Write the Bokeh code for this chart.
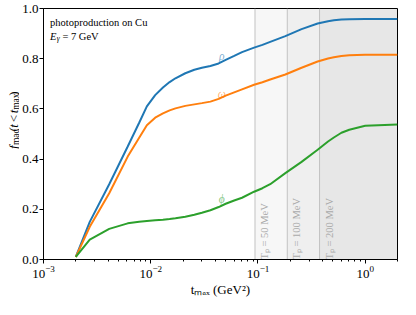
import math
from bokeh.plotting import figure
from bokeh.layouts import row
from bokeh.models import Range1d, Label, FixedTicker, PrintfTickFormatter, LogTicker, ColumnDataSource
from bokeh.embed import file_html
from bokeh.resources import INLINE
from bokeh.core.properties import value

# ---------------- data ----------------
t_max = [0.002, 0.0027, 0.0041, 0.0061, 0.0078, 0.0092, 0.011, 0.013, 0.015, 0.017,
         0.021, 0.0255, 0.03, 0.036, 0.043, 0.05, 0.06, 0.071, 0.092, 0.11,
         0.13, 0.18, 0.255, 0.36, 0.45, 0.51, 0.6, 0.71, 1.0, 2.0]
rho = [0.01, 0.150, 0.300, 0.450, 0.545, 0.610, 0.655, 0.685, 0.707, 0.722,
       0.742, 0.756, 0.764, 0.771, 0.781, 0.795, 0.811, 0.826, 0.844, 0.855,
       0.867, 0.890, 0.918, 0.940, 0.949, 0.953, 0.956, 0.957, 0.958, 0.958]
omega = [0.01, 0.130, 0.264, 0.410, 0.485, 0.535, 0.565, 0.582, 0.594, 0.602,
         0.612, 0.618, 0.623, 0.629, 0.640, 0.653, 0.666, 0.678, 0.696, 0.706,
         0.717, 0.737, 0.764, 0.789, 0.801, 0.806, 0.811, 0.814, 0.816, 0.816]
phi = [0.01, 0.079, 0.122, 0.144, 0.150, 0.153, 0.156, 0.158, 0.161, 0.164,
       0.170, 0.178, 0.186, 0.196, 0.209, 0.222, 0.235, 0.246, 0.270, 0.284,
       0.300, 0.344, 0.389, 0.437, 0.470, 0.486, 0.505, 0.517, 0.533, 0.538]

series_colors = ["#1f77b4", "#ff7f0e", "#2ca02c"]
curve_names = ["ρ", "ω", "ϕ"]
curve_label_t = [0.046, 0.046, 0.046]
curve_label_y = [0.812, 0.658, 0.242]

tp_t = [0.0938, 0.1876, 0.375]
tp_labels = ["Tₚ = 50 MeV", "Tₚ = 100 MeV", "Tₚ = 200 MeV"]

y_ticks = [0.0, 0.2, 0.4, 0.6, 0.8, 1.0]
x_lo, x_hi = 1e-3, 2.0
x_title = "tₘₐₓ (GeV²)"

SERIF = "Liberation Serif"
TICK_FS = 13
LAB_FS = 13
SUB_FS = 9.5

# ---------------- geometry ----------------
LYW = 19                       # width of the y-label strip
PW, PH = 380, 299              # main plot canvas
BL, BR, BT, BB = 22, 2, 8, 24
FW = PW - BL - BR
FH_EST = 251                   # expected frame height after the x axis is laid out

p = figure(width=PW, height=PH, x_axis_type="log", output_backend="svg",
           toolbar_location=None, x_range=Range1d(x_lo, x_hi), y_range=Range1d(0, 1),
           min_border_left=BL, min_border_right=BR, min_border_top=BT, min_border_bottom=BB)
p.grid.visible = False
p.outline_line_color = "black"
p.outline_line_width = 1
p.background_fill_color = "white"
p.border_fill_color = "white"

for ax in (p.xaxis[0], p.yaxis[0]):
    ax.axis_line_color = "black"
    ax.major_tick_line_color = "black"
    ax.minor_tick_line_color = "black"
    ax.major_tick_in = 0
    ax.major_tick_out = 4
    ax.minor_tick_in = 0
    ax.minor_tick_out = 2
    ax.major_label_text_font = SERIF
    ax.major_label_text_font_size = f"{TICK_FS}px"
    ax.major_label_text_color = "black"
    ax.major_label_standoff = 2
p.yaxis.major_label_standoff = 1

p.xaxis.ticker = LogTicker(num_minor_ticks=10)
p.yaxis.ticker = FixedTicker(ticks=y_ticks)
p.yaxis.formatter = PrintfTickFormatter(format="%.1f")
p.yaxis.minor_tick_line_color = None

p.xaxis.axis_label = x_title
p.xaxis.axis_label_text_font = SERIF
p.xaxis.axis_label_text_font_size = f"{LAB_FS}px"
p.xaxis.axis_label_text_font_style = "normal"
p.xaxis.axis_label_text_color = "black"
p.xaxis.axis_label_standoff = 1

# shaded regions, threshold lines and their labels
p.quad(left=tp_t, right=x_hi, bottom=0, top=1, fill_color="black", fill_alpha=0.03, line_color=None)
p.segment(x0=tp_t, x1=tp_t, y0=0, y1=1, line_color="#c2c2c2", line_width=1)
tp_src = ColumnDataSource(dict(x=tp_t, text=tp_labels))
p.text(x="x", y=0.0, text="text", source=tp_src, angle=math.pi / 2, x_offset=4,
       text_align="left", text_baseline="top", text_font=value(SERIF),
       text_font_size="10.5px", text_color="#aaaaaa")

# curves
for ys, c in zip([rho, omega, phi], series_colors):
    p.line(t_max, ys, line_color=c, line_width=2)

lab_src = ColumnDataSource(dict(x=curve_label_t, y=curve_label_y, text=curve_names, color=series_colors))
p.text(x="x", y="y", text="text", source=lab_src, text_color="color", text_alpha=0.6,
       text_font=value(SERIF), text_font_style="italic", text_font_size="11.5px",
       text_align="center", text_baseline="middle")

# ---------------- text helpers ----------------
LX = math.log10(x_hi / x_lo)
def xd(dx):
    return x_lo * 10 ** (dx / FW * LX)
def yd_top(d):
    return 1 - d / FH_EST

EM = {"m": .778, "a": .444, "c": .444, "x": .5, "(": .333, ")": .333, "<": .564,
      "G": .722, "e": .444, "V": .722, "2": .5, "=": .564, "7": .5, " ": .25,
      "f": .278, "t": .278, "E": .611, "γ": .44}
def width(s, size):
    return sum(EM.get(ch, .5) for ch in s) * size

def add_label(fig, text, x, y, size, style="normal"):
    fig.add_layout(Label(x=x, y=y, text=text, text_font=SERIF,
                         text_font_size=f"{size}px", text_font_style=style,
                         text_color="black", text_align="left", text_baseline="alphabetic"))

def strip(w, h):
    f = figure(width=w, height=h, x_range=Range1d(0, w), y_range=Range1d(0, h),
               output_backend="svg", toolbar_location=None,
               x_axis_location=None, y_axis_location=None, min_border=0)
    f.grid.visible = False
    f.outline_line_color = None
    f.background_fill_color = "white"
    f.border_fill_color = "white"
    return f

def total_len(pieces):
    return sum(width(s, sz) + g for s, sz, _, _, g in pieces)

# y-axis label strip: f_mac(t < t_max), rotated
ly = strip(LYW, PH)
ypieces = [("f", LAB_FS, "italic", 0, 1.0), ("mac", SUB_FS, "normal", 2, 0.3),
           ("(", LAB_FS, "normal", 0, 0), ("t", LAB_FS, "italic", 0, 3.2),
           ("<", LAB_FS, "normal", 0, 3.2), ("t", LAB_FS, "italic", 0, 0.5),
           ("max", SUB_FS, "normal", 2, 0.3), (")", LAB_FS, "normal", 0, 0)]
xs, ys, texts, sizes, styles = [], [], [], [], []
pos = (PH - BT - FH_EST / 2) - total_len(ypieces) / 2
for s, sz, st, sh, g in ypieces:
    xs.append(13 + sh); ys.append(pos)
    texts.append(s); sizes.append(f"{sz}px"); styles.append(st)
    pos += width(s, sz) + g
ysrc = ColumnDataSource(dict(x=xs, y=ys, text=texts, size=sizes, style=styles))
ly.text(x="x", y="y", text="text", source=ysrc, angle=math.pi / 2,
        text_font=value(SERIF), text_font_size="size", text_font_style="style",
        text_color="black", text_align="left", text_baseline="alphabetic")

# top-left annotation inside the frame
add_label(p, "photoproduction on Cu", xd(6.5), yd_top(13.5), 10.5)
epieces = [("E", 10.5, "italic", 0, 0.3), ("γ", 7.5, "italic", -2, 2.5), ("= 7 GeV", 10.5, "normal", 0, 0)]
pos = 6.5
for s, sz, st, sh, g in epieces:
    add_label(p, s, xd(pos), yd_top(28 - sh), sz, st)
    pos += width(s, sz) + g

root = row(ly, p)
open("out.html", "w").write(file_html(root, INLINE))
